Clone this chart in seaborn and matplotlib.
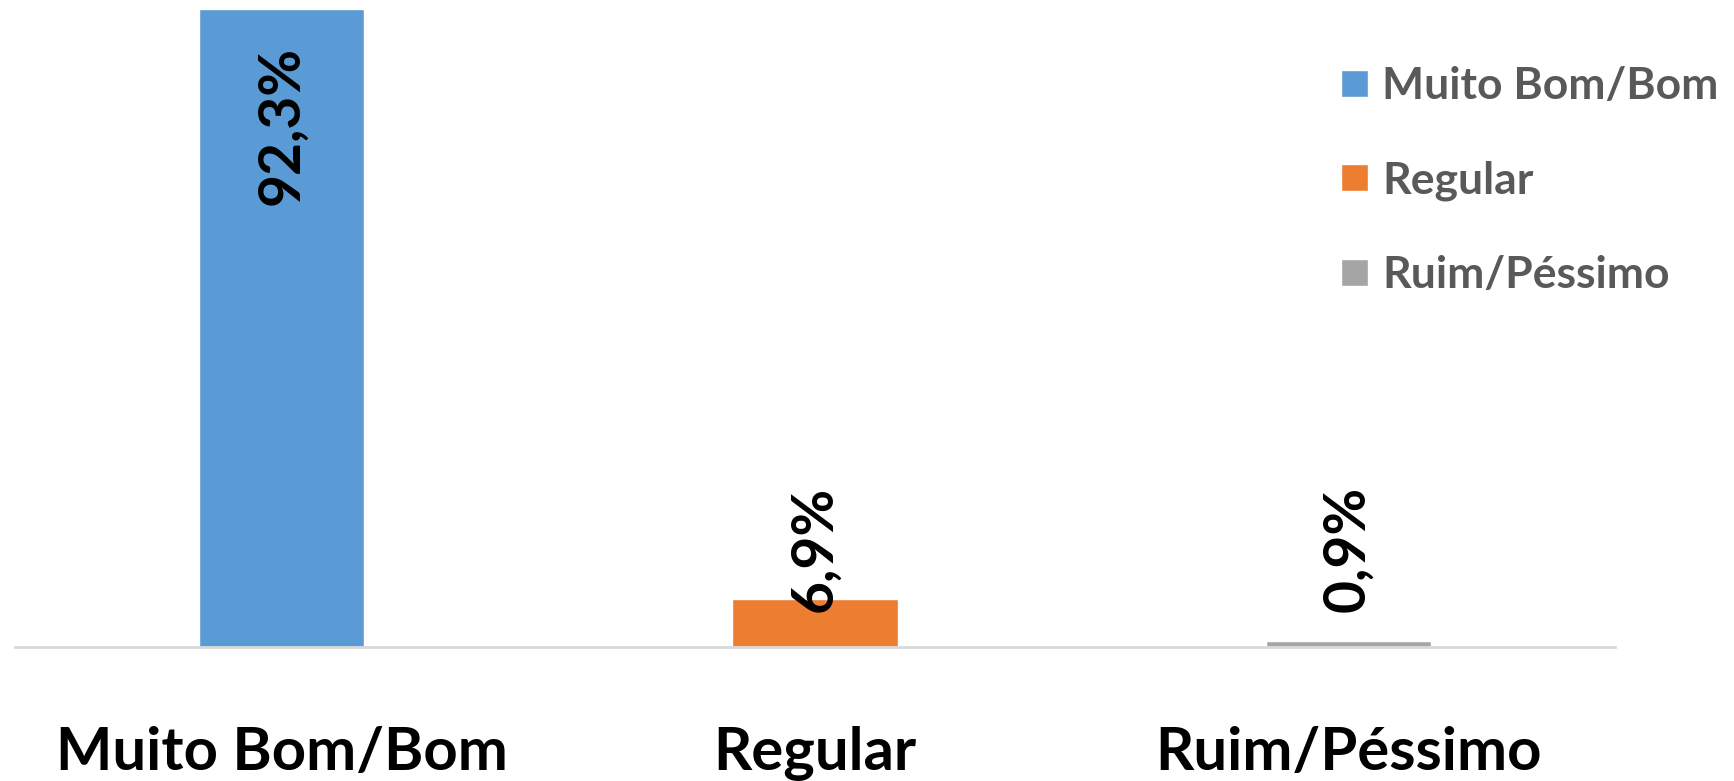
import matplotlib
matplotlib.use("Agg")
import matplotlib.pyplot as plt
import seaborn as sns

# dados
categorias = ["Muito Bom/Bom", "Regular", "Ruim/Péssimo"]
valores = [92.3, 6.9, 0.9]
rotulos = ["92,3%", "6,9%", "0,9%"]
cores = ["#5B9BD5", "#ED7D31", "#A5A5A5"]

sns.set_style("white")
plt.rcParams['font.family'] = ['Lato', 'DejaVu Sans']

fig = plt.figure(figsize=(17.34, 7.81), dpi=100)
ax = fig.add_axes([15 / 1734, (781 - 647) / 781, 1600 / 1734, (647 - 9) / 781])

sns.barplot(x=categorias, y=valores, hue=categorias, palette=cores,
            width=0.31, saturation=1, legend=True, ax=ax)

ax.set_xlim(-0.5, 2.5)
ax.set_ylim(0, 92.3)

# rótulos de dados (vertical)
for i, (v, txt) in enumerate(zip(valores, rotulos)):
    if v > 50:
        ax.text(i, v - 5.3, txt, rotation=90, ha='center', va='top',
                fontsize=41, fontweight='bold', color='black')
    else:
        ax.text(i, 5, txt, rotation=90, ha='center', va='bottom',
                fontsize=41, fontweight='bold', color='black')

# eixos
for s in ['top', 'right', 'left']:
    ax.spines[s].set_visible(False)
ax.spines['bottom'].set_color('#D9D9D9')
ax.spines['bottom'].set_linewidth(2)
ax.set_yticks([])
ax.set_xlabel('')
ax.set_ylabel('')
ax.tick_params(axis='x', length=0, pad=57)
for lb in ax.get_xticklabels():
    lb.set_fontsize(43)
    lb.set_fontweight('bold')
    lb.set_color('black')

# legenda
leg = ax.legend(loc='upper left', bbox_to_anchor=(1341 / 1734, 1 - 66 / 781),
                bbox_transform=fig.transFigure, frameon=False,
                fontsize=32, handlelength=0.6, handleheight=0.55,
                handletextpad=0.32, labelspacing=1.22, borderpad=0,
                borderaxespad=0)
for t in leg.get_texts():
    t.set_color('#595959')
    t.set_fontweight('bold')

fig.savefig("out.png", dpi=100)
